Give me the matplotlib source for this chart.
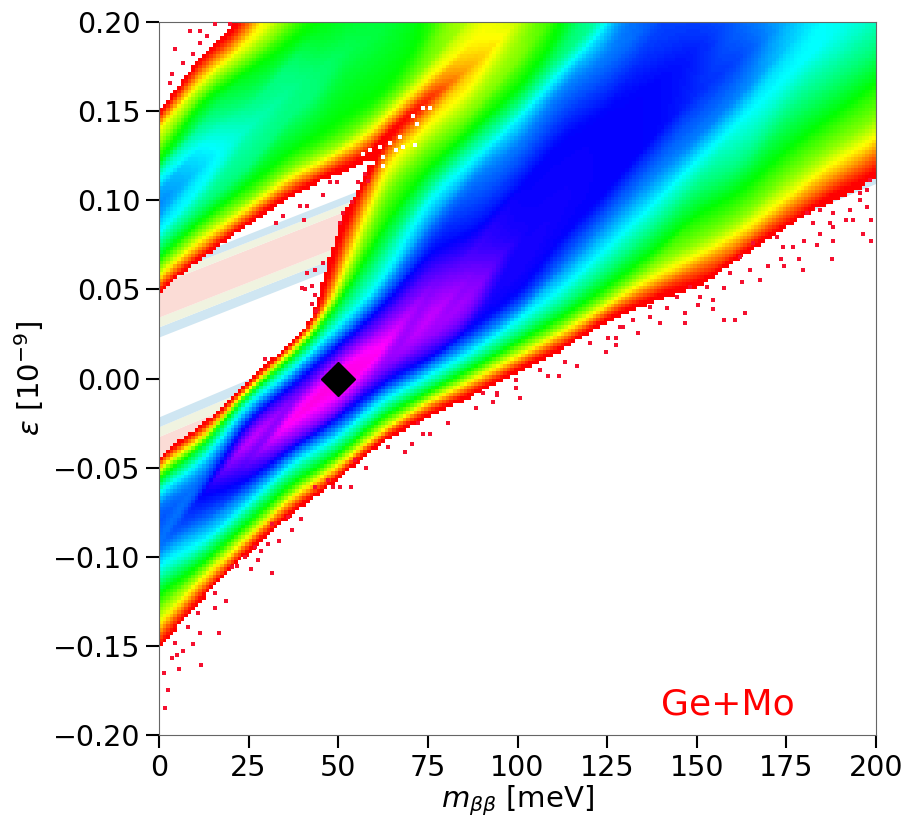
#!/usr/bin/env python3
# -*- coding: utf-8 -*-
"""
Density of m_bb vs epsilon, Ge+Mo
"""

import numpy as np
import matplotlib
matplotlib.use("Agg")
import matplotlib.pyplot as plt
import matplotlib.tri as mtri
from matplotlib.colors import LinearSegmentedColormap

# density level read off the picture along vertical cuts (0 = empty)
# level: 1 red, 3 yellow, 5 green, 7 cyan, 9 blue, 11 magenta
eps_x000 = [-.155, -.150, -.143, -.137, -.128, -.120, -.112, -.104, -.095, -.080, -.072, -.066, -.063, -.059, -.055, -.052, -.050, -.047, -.045, -.041,
            .046, .050, .054, .058, .063, .068, .075, .082, .092, .098, .105, .112, .118, .122, .130, .140, .144, .148, .152]
lev_x000 = [0, 1, 2, 3, 4, 5, 6, 7, 8, 8.4, 8.2, 7.5, 7, 6, 5, 4, 3, 2, 1, 0,
            0, 1, 2, 3, 4, 5, 6, 7, 7.8, 8, 7.8, 7, 6, 5, 4, 3, 2, 1, 0]
eps_x012 = [-.125, -.121, -.116, -.111, -.107, -.103, -.097, -.092, -.081, -.072, -.064, -.055, -.050, -.046, -.042, -.037, -.035, -.033, -.030, -.027, -.023,
            .066, .070, .074, .079, .084, .090, .098, .108, .120, .132, .145, .157, .163, .169, .175, .182, .188]
lev_x012 = [0, 1, 2, 3, 4, 5, 6, 7, 8, 8.7, 9, 8, 7.5, 7, 6, 5, 4, 3, 2, 1, 0,
            0, 1, 2, 3, 4, 5, 6, 7, 7.3, 7, 6, 5, 4, 3, 2, 1, 0]
eps_x025 = [-.101, -.096, -.092, -.089, -.085, -.081, -.075, -.070, -.063, -.056, -.047, -.035, -.028, -.023, -.018, -.013, -.010, -.008, -.0065, -.0055, -.004, -.0027, .001,
            .084, .088, .092, .096, .100, .108, .118, .141, .152, .173, .180, .188, .194, .200, .206]
lev_x025 = [0, 1, 2, 3, 4, 5, 6, 7, 8, 9, 9.8, 10.8, 9.9, 9, 8, 7, 6, 5, 4, 3, 2, 1, 0,
            0, 1, 2, 3, 4, 5, 6, 6.5, 6, 5, 4, 3, 2, 1, 0]
eps_x037 = [-.078, -.073, -.069, -.065, -.062, -.058, -.052, -.047, -.042, -.038, -.033, -.022, -.012, -.004, .001, .005, .009, .012, .014, .016, .018, .020, .024,
            .100, .105, .110, .114, .119, .128, .150, .163, .178, .190, .200, .212]
lev_x037 = [0, 1, 2, 3, 4, 5, 6, 7, 8, 9, 10, 11.5, 10, 9, 8, 7, 6, 5, 4, 3, 2, 1, 0,
            0, 1, 2, 3, 4, 5, 6, 6.1, 6, 5, 4, 3]
eps_x044 = [-.069, -.064, -.060, -.057, -.054, -.051, -.045, -.040, -.035, -.030, -.026, -.012, .000, .008, .013, .018, .022, .026, .028, .030, .032, .034, .037,
            .108, .112, .116, .120, .124, .133, .158, .172, .195, .210]
lev_x044 = [0, 1, 2, 3, 4, 5, 6, 7, 8, 9, 10, 11.5, 10, 9, 8, 7, 6, 5, 4, 3, 2, 1, 0,
            0, 1, 2, 3, 4, 5, 6, 5.9, 5, 4.5]
eps_x050 = [-.060, -.055, -.052, -.049, -.046, -.043, -.038, -.033, -.028, -.022, -.018, -.006, .003, .012, .018, .023, .029, .036, .044, .048, .055, .062, .075, .090, .096,
            .110, .118, .122, .126, .130, .138, .145, .182, .208]
lev_x050 = [0, 1, 2, 3, 4, 5, 6, 7, 8, 9, 10, 11.4, 11.4, 10, 9, 8, 7, 6, 5, 4, 3, 2, 1, 0.7, 0,
            0, 1, 2, 3, 4, 4.6, 5, 5.7, 5]
eps_x056 = [-.049, -.044, -.041, -.039, -.036, -.032, -.028, -.022, -.018, -.012, -.006, .004, .011, .020, .028, .034, .041, .052, .063, .073, .083, .092, .101, .108,
            .114, .122, .128, .133, .140, .151, .188, .214]
lev_x056 = [0, 1, 2, 3, 4, 5, 6, 7, 8, 9, 10, 11.3, 11.3, 10, 9, 8, 7, 6, 5, 4, 3, 2, 1, 0,
            0, 1, 2, 3, 4, 5, 5.6, 5]
eps_x062 = [-.038, -.033, -.031, -.029, -.025, -.021, -.017, -.012, -.007, -.0025, .005, .016, .029, .040, .048, .056, .070, .085, .105, .118, .126, .133, .136, .140, .145, .151, .160, .195, .220]
lev_x062 = [0, 1, 2, 3, 4, 5, 6, 7, 8, 9, 10, 11.2, 10, 9, 8, 7, 6, 5, 4, 3, 2, 1, 1, 2, 3, 4, 5, 5.5, 5]
eps_x075 = [-.024, -.019, -.016, -.013, -.011, -.008, -.004, .001, .006, .010, .023, .033, .051, .061, .070, .085, .100, .108, .118, .131, .142, .150, .156, .158, .162, .168, .176, .195]
lev_x075 = [0, 1, 2, 3, 4, 5, 6, 7, 8, 9, 10.3, 10.7, 10, 9.5, 9, 8, 7, 6, 5, 4, 3, 2, 1, 1.2, 2, 3, 4, 5]
eps_x087 = [-.012, -.007, -.004, -.001, .002, .005, .010, .015, .021, .028, .037, .048, .058, .070, .080, .112, .1226, .132, .140, .150, .163, .175, .188, .205]
lev_x087 = [0, 1, 2, 3, 4, 5, 6, 7, 8, 9, 10, 10.3, 10, 9.5, 9, 8, 7, 6, 5, 4, 3, 2.4, 3, 3.8]
eps_x100 = [.002, .006, .009, .012, .016, .020, .025, .032, .038, .047, .062, .080, .105, .130, .145, .153, .162, .178, .200]
lev_x100 = [0, 1, 2, 3, 4, 5, 6, 7, 8, 9, 9.2, 9.1, 9, 8, 7, 6, 5, 4, 3.3]
eps_x112 = [.014, .018, .022, .026, .029, .034, .041, .050, .062, .080, .100, .135, .163, .173, .182, .195, .210]
lev_x112 = [0, 1, 2, 3, 4, 5, 6, 7, 8, 9, 9.1, 9, 8, 7, 6, 5, 4.5]
eps_x125 = [.030, .034, .038, .041, .045, .051, .061, .073, .088, .105, .150, .180, .197, .205]
lev_x125 = [0, 1, 2, 3, 4, 5, 6, 7, 8, 9, 9, 8, 7, 6]
eps_x137 = [.041, .045, .051, .056, .062, .070, .083, .097, .113, .135, .165, .190, .200]
lev_x137 = [0, 1, 2, 3, 4, 5, 6, 7, 8, 9, 9, 8.5, 8.2]
eps_x150 = [.048, .053, .063, .068, .076, .092, .108, .122, .135, .160, .185, .200]
lev_x150 = [0, 1, 2, 3, 4, 5, 6, 7, 8, 8.7, 8.8, 8.5]
eps_x162 = [.066, .070, .076, .082, .090, .105, .120, .145, .160, .180, .200]
lev_x162 = [0, 1, 2, 3, 4, 5, 6, 7, 8, 8.5, 8.2]
eps_x175 = [.082, .086, .094, .101, .112, .128, .150, .169, .185, .200]
lev_x175 = [0, 1, 2, 3, 4, 5, 6, 7, 7.4, 7.6]
eps_x187 = [.092, .103, .111, .120, .130, .147, .168, .192, .210]
lev_x187 = [0, 1, 2, 3, 4, 5, 6, 7, 7]
eps_x200 = [.105, .115, .125, .134, .145, .165, .185, .200]
lev_x200 = [0, 1, 2, 3, 4, 5, 6, 6.5]

# stray single cells
speck_x = [1.6, 2.5, 1.5, 5.6, 11.6, 16.6, 18.6, 15.6, 11.4, 9.5, 3.6, 6.7, 5, 31.5, 25.7, 37, 39.6, 33.4, 30.4,
           53.6, 50.5, 48.6, 57.7, 68.6, 70.6, 73.6, 75.5, 80.6, 27.6, 28.4, 21.8, 88.4, 93.2, 100.7, 99.6, 99.6,
           111.6, 108.5, 116.6, 124.7, 127.5, 127.5, 133.6, 139.7, 146.7, 146.7, 141.7, 125.3, 113.3, 94.2, 106.3,
           157.6, 160.7, 163.5, 154.6, 150.4, 167.6, 179.6, 174.4, 187.7, 178.5, 198.6, 196.3, 188, 183.5, 180,
           157.6, 162.6, 170, 173.4, 193.6, 191.6, 198.6, 197.5, 195.5, 188, 184.4, 176.9, 164.9, 154.6,
           4.5, 3.6, 8.6, 11.4, 15.6, 19.8, 6.7, 9.5, 11.4, 13.3, 3,
           32.6, 34.6, 40.4, 39.3, 41.2, 45.7, 49.6, 47.7, 53.8, 51.3, 50.5, 55.5, 57.5, 58.4,
           45.7, 43.5, 41.3, 39.9, 42.7, 40.7, 43.5, 42.7, 43.8, 29.6,
           172.3, 174.1, 165.8, 162.1, 159.3, 150.9, 152.8, 148.1, 144.4, 137, 132.3, 129.5, 180.7, 184.4, 188.1,
           182.5, 187.2, 192.7, 195.5, 198.3, 197.4,
           24, 20.3, 15.6, 11, 8.2, 4.5, 26.8, 36.1, 31.4, 43.5, 47.2, 54.7, 64, 72.3,
           90.4, 94.2, 120.2, 128.6, 137]
speck_eps = [-.185, -.175, -.165, -.163, -.161, -.143, -.125, -.129, -.143, -.149, -.157, -.153, -.155, -.109, -.107, -.085, -.079, -.091, -.093,
             -.061, -.061, -.061, -.050, -.041, -.037, -.031, -.031, -.025, -.102, -.097, -.105, -.0165, -.013, -.011, -.0053, -.001,
             .0014, .0014, .007, .015, .019, .023, .0255, .031, .031, .037, .0395, .023, .009, -.009, .005,
             .033, .033, .037, .039, .041, .055, .061, .063, .067, .067, .077, .081, .077, .075, .077,
             .051, .054, .063, .067, .089, .089, .089, .096, .100, .085, .081, .074, .061, .044,
             .185, .171, .195, .195, .199, .199, .177, .182, .188, .192, .166,
             .087, .091, .089, .097, .097, .103, .110, .110, .099, .093, .087, .110, .115, .111,
             .065, .061, .059, .051, .052, .050, .047, .042, .038, .011,
             .0796, .074, .0759, .0684, .059, .0459, .0515, .0515, .0459, .0403, .0328, .0291, .0927, .0946, .0927,
             .0871, .0871, .0946, .1039, .1114, .1058,
             -.100, -.1056, -.1205, -.1317, -.1393, -.1486, -.0944, -.0775, -.0814, -.0607, -.057, -.0457, -.0382, -.0252,
             -.0083, -.0083, .0198, .029, .0347]

# holes in the red ridge between the two bands
hole_x = [57, 61.6, 64.4, 67.2, 70.8, 73.6, 72, 75.6, 62.5, 58.9, 59.7, 62.5, 66, 68, 71.3]
hole_eps = [.126, .130, .132, .1355, .147, .152, .143, .152, .124, .128, .121, .119, .128, .130, .131]

# pale bands under the density: edges at m = 0 and m = 200
band_x = [0, 200]
upper_edges_0 = [.0233, .029, .0345, .053, .0572, .0615]
upper_edges_200 = [.1813, .187, .1925, .211, .2152, .2195]
lower_edges_0 = [-.0605, -.055, -.050, -.0325, -.027, -.0215]
lower_edges_200 = [.1095, .115, .120, .1375, .143, .1485]
band_colors = ['#cfe6f2', '#f0f3e0', '#fbdcd6', '#f0f3e0', '#cfe6f2']

best_fit_m = 50
best_fit_eps = 0

x_ticks = [0, 25, 50, 75, 100, 125, 150, 175, 200]
y_ticks = [-0.20, -0.15, -0.10, -0.05, 0.00, 0.05, 0.10, 0.15, 0.20]

level_colors = ['#ff0000', '#ff8000', '#ffff00', '#80ff00', '#00ff00', '#00ff80', '#00ffff',
                '#0080ff', '#0000ff', '#8000ff', '#ff00ff', '#ff00b4']


def strip_triangles(ya, za, yb, zb, shift, ia, ib):
    """Join two neighbouring cuts so that triangles run along equal levels."""
    n, m = len(ya), len(yb)
    cost = np.abs(np.subtract.outer(za, zb)) + 30 * np.abs(np.subtract.outer(ya, yb) + shift)
    best = np.full((n, m), np.inf)
    best[0, 0] = cost[0, 0]
    for i in range(n):
        for j in range(m):
            if i > 0:
                best[i, j] = min(best[i, j], best[i - 1, j] + cost[i, j])
            if j > 0:
                best[i, j] = min(best[i, j], best[i, j - 1] + cost[i, j])
    tris = []
    i, j = n - 1, m - 1
    while i > 0 or j > 0:
        if j == 0 or (i > 0 and best[i - 1, j] <= best[i, j - 1]):
            tris.append([ia + i, ia + i - 1, ib + j])
            i -= 1
        else:
            tris.append([ia + i, ib + j, ib + j - 1])
            j -= 1
    return tris


def main():
    columns = [
        (0, eps_x000, lev_x000), (12.5, eps_x012, lev_x012), (25, eps_x025, lev_x025),
        (37.5, eps_x037, lev_x037), (44, eps_x044, lev_x044), (50, eps_x050, lev_x050),
        (56, eps_x056, lev_x056), (62.5, eps_x062, lev_x062), (75, eps_x075, lev_x075),
        (87.5, eps_x087, lev_x087), (100, eps_x100, lev_x100), (112.5, eps_x112, lev_x112),
        (125, eps_x125, lev_x125), (137.5, eps_x137, lev_x137), (150, eps_x150, lev_x150),
        (162.5, eps_x162, lev_x162), (175, eps_x175, lev_x175), (187.5, eps_x187, lev_x187),
        (200, eps_x200, lev_x200),
    ]
    xs, ys, zs, tris = [], [], [], []
    prev = None
    for x, eps, lev in columns:
        # close every cut beyond the axes so the triangles cover the whole frame
        y = np.array([-.23] + eps + [.24])
        z = np.array([0] + lev + [lev[-1]], float)
        start = len(xs)
        xs += [x] * len(y)
        ys += list(y)
        zs += list(z)
        if prev is not None:
            tris += strip_triangles(prev[1], prev[2], y, z, 0.0022 * (x - prev[0]), prev[3], start)
        prev = (x, y, z, start)
    tri = mtri.Triangulation(np.array(xs, float), np.array(ys), np.array(tris))

    # histogram cells: 1 meV x 0.002
    x_edges = np.arange(0, 201, 1.0)
    y_edges = np.linspace(-0.2, 0.2, 201)
    xc, yc = np.meshgrid(x_edges[:-1] + 0.5, (y_edges[:-1] + y_edges[1:]) / 2)
    cells = np.ma.filled(mtri.LinearTriInterpolator(tri, np.array(zs))(xc, yc), 0.0)

    # average along the band direction to take the kinks out between the cuts
    iy, ix = np.indices(cells.shape)
    smooth = np.zeros_like(cells)
    total = 0.0
    for d in range(-7, 8):
        w = 8 - abs(d)
        xi = np.clip(ix + d, 0, 199)
        yi = np.clip(iy + np.round(1.1 * (xi - ix)).astype(int), 0, 199)
        smooth += w * cells[yi, xi]
        total += w
    smooth /= total

    fig = plt.figure(figsize=(9.07, 8.19), dpi=100)
    ax = fig.add_axes([159 / 907, 1 - 735 / 819, 717 / 907, 713 / 819])

    for i, c in enumerate(band_colors):
        ax.fill_between(band_x, [upper_edges_0[i], upper_edges_200[i]],
                        [upper_edges_0[i + 1], upper_edges_200[i + 1]], color=c, lw=0, zorder=1)
        ax.fill_between(band_x, [lower_edges_0[i], lower_edges_200[i]],
                        [lower_edges_0[i + 1], lower_edges_200[i + 1]], color=c, lw=0, zorder=1)

    cmap = LinearSegmentedColormap.from_list('dens', level_colors, N=256)
    ax.pcolormesh(x_edges, y_edges, np.ma.masked_less(smooth, 0.6), cmap=cmap, vmin=1, vmax=12,
                  shading='flat', zorder=2)

    ax.scatter(speck_x, speck_eps, marker='s', s=7, color='#f5102f', linewidths=0, zorder=3)
    ax.scatter(hole_x, hole_eps, marker='s', s=7, color='white', linewidths=0, zorder=3)

    ax.plot(best_fit_m, best_fit_eps, 'D', ms=17.8, color='black', zorder=4)
    ax.text(140, -0.1885, 'Ge+Mo', color='red', fontsize=26, va='baseline', zorder=5)

    ax.set_xlim(0, 200)
    ax.set_ylim(-0.2, 0.2)
    ax.set_xticks(x_ticks)
    ax.set_yticks(y_ticks)
    ax.set_yticklabels([f'{v:.2f}'.replace('-', '\u2212') for v in y_ticks])
    ax.tick_params(length=9.4, width=1.5, labelsize=20.5, pad=4)
    for s in ax.spines.values():
        s.set_linewidth(0.8)
        s.set_color('#666666')

    ax.set_xlabel(r'$m_{\beta\beta}$ [meV]', fontsize=21, labelpad=1)
    ax.set_ylabel(r'$\varepsilon$ [$10^{-9}$]', fontsize=21, labelpad=5)

    plt.savefig('out.png', dpi=100)
    plt.close()


if __name__ == "__main__":
    main()
